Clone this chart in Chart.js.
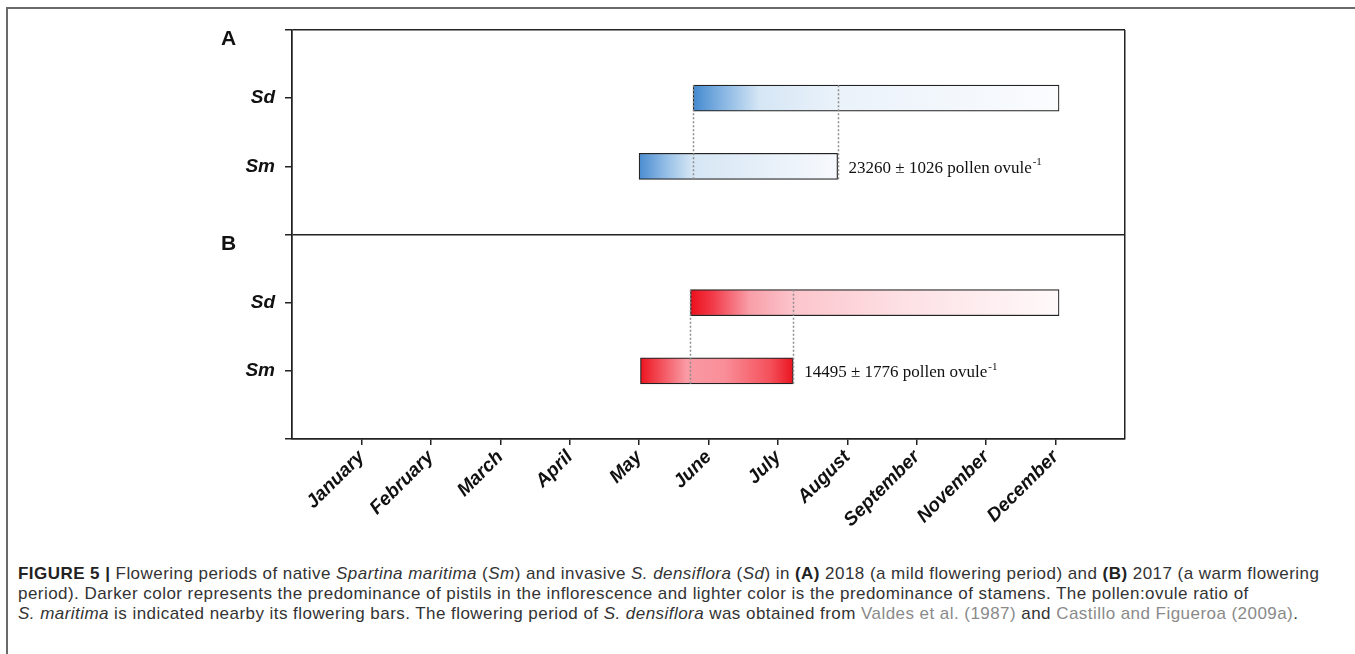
<!DOCTYPE html>
<html>
<head>
<meta charset="utf-8">
<script src="https://cdn.jsdelivr.net/npm/chart.js@4.4.1/dist/chart.umd.min.js"></script>
<style>
  html, body { margin: 0; padding: 0; background: #fff; }
  body { width: 1355px; height: 654px; position: relative; overflow: hidden; }
  #frame { position: absolute; left: 6px; top: 7px; width: 1360px; height: 660px; border-left: 2px solid #6a6a6a; border-top: 2px solid #6a6a6a; }
  #wrap { position: absolute; left: 0; top: 0; width: 1355px; height: 539px; }
  #caption { position: absolute; left: 18px; top: 564px; font: 17px/20px "Liberation Sans", Arial, sans-serif; letter-spacing: 0.45px; color: #333; white-space: nowrap; }
  #caption b { color: #222; }
  #caption .ref { color: #8a8a8a; }
</style>
</head>
<body>
<div id="frame"></div>
<div id="wrap"><canvas id="chart"></canvas></div>
<div id="caption">
<b>FIGURE 5 |</b> Flowering periods of native <i>Spartina maritima</i> (<i>Sm</i>) and invasive <i>S. densiflora</i> (<i>Sd</i>) in <b>(A)</b> 2018 (a mild flowering period) and <b>(B)</b> 2017 (a warm flowering<br>
period). Darker color represents the predominance of pistils in the inflorescence and lighter color is the predominance of stamens. The pollen:ovule ratio of<br>
<i>S. maritima</i> is indicated nearby its flowering bars. The flowering period of <i>S. densiflora</i> was obtained from <span class="ref">Valdes et al. (1987)</span> and <span class="ref">Castillo and Figueroa (2009a)</span>.
</div>
<script>
// month axis: 0 = January (October is missing in the original figure)
const months = ['January', 'February', 'March', 'April', 'May', 'June', 'July', 'August', 'September', 'November', 'December'];
// rows of the y axis, top to bottom (0-2 panel A, 3-6 panel B)
const rowLabels = ['', 'Sd', 'Sm', '', 'Sd', 'Sm', ''];
const dividerRows = [0, 3, 6];
const panels = ['A', 'B'];
const panelRows = [0, 3];

// flowering bars: A-Sd, A-Sm, B-Sd, B-Sm (month units)
const barRows = [1, 2, 4, 5];
const barStart = [4.78, 4.0, 4.74, 4.02];
const barEnd = [10.05, 6.86, 10.05, 6.22];

// dotted guides per panel
const guideA = [4.78, 6.86];
const guideB = [4.74, 6.22];

// pollen:ovule ratio of S. maritima, per panel
const ratioText = ['23260 ± 1026', '14495 ± 1776'];

// colour ramps along each bar (pistils dark -> stamens light)
const fills = [
  [[0, '#4489cf'], [0.07, '#7eb0e0'], [0.18, '#d5e6f5'], [0.39, '#eaf2fa'], [1, '#fbfcfe']],
  [[0, '#4a8cd1'], [0.15, '#9cc3e8'], [0.27, '#d6e6f4'], [1, '#f7f9fd']],
  [[0, '#ec0f1c'], [0.06, '#f23a48'], [0.16, '#f89ea8'], [0.28, '#fcc5cc'], [0.57, '#fde0e4'], [1, '#fff9fa']],
  [[0, '#ed1520'], [0.3, '#f99aa4'], [0.55, '#f98e98'], [0.85, '#f4505b'], [1, '#ea1420']]
];

const extras = {
  id: 'extras',
  afterDatasetsDraw(chart) {
    const { ctx, scales: { x, y } } = chart;
    const bars = chart.getDatasetMeta(0).data;
    ctx.save();

    ctx.strokeStyle = '#8e8e8e';
    ctx.lineWidth = 1.5;
    ctx.setLineDash([2, 2]);
    [guideA, guideB].forEach((guides, p) => {
      const sd = bars[p * 2], sm = bars[p * 2 + 1];
      const top = sd.y - sd.height / 2;
      const bottom = sm.y + sm.height / 2;
      guides.forEach((v) => {
        const px = Math.round(x.getPixelForValue(v)) + 0.5;
        ctx.beginPath();
        ctx.moveTo(px, top);
        ctx.lineTo(px, bottom);
        ctx.stroke();
      });
    });
    ctx.setLineDash([]);

    ctx.fillStyle = '#111';
    ratioText.forEach((t, p) => {
      const i = p * 2 + 1;
      let tx = x.getPixelForValue(barEnd[i]) + 11;
      const ty = bars[i].y + 2;
      const main = t + ' pollen ovule';
      ctx.font = '17px "Liberation Serif", "Times New Roman", serif';
      ctx.textBaseline = 'middle';
      ctx.textAlign = 'left';
      ctx.fillText(main, tx, ty);
      tx += ctx.measureText(main).width + 1;
      ctx.font = '11px "Liberation Serif", "Times New Roman", serif';
      ctx.fillText('-1', tx, ty - 6);
    });

    ctx.font = 'bold 21px "Liberation Sans", Arial, sans-serif';
    ctx.textBaseline = 'alphabetic';
    panels.forEach((name, p) => {
      ctx.fillText(name, chart.chartArea.left - 71, y.getPixelForValue(panelRows[p]) + 15);
    });
    ctx.restore();
  }
};

const black = '#222';
const clear = 'rgba(0,0,0,0)';

new Chart(document.getElementById('chart'), {
  type: 'bar',
  data: {
    datasets: [{
      data: barRows.map((r, i) => ({ y: r, x: [barStart[i], barEnd[i]] })),
      backgroundColor(c) {
        const chart = c.chart;
        const xs = chart.scales.x;
        const i = c.dataIndex;
        if (!chart.chartArea || !xs) return fills[i][0][1];
        const g = chart.ctx.createLinearGradient(xs.getPixelForValue(barStart[i]), 0, xs.getPixelForValue(barEnd[i]), 0);
        fills[i].forEach(([o, col]) => g.addColorStop(o, col));
        return g;
      },
      borderColor: black,
      borderWidth: 1.2,
      borderSkipped: false,
      barThickness: 26
    }]
  },
  options: {
    indexAxis: 'y',
    responsive: true,
    maintainAspectRatio: false,
    animation: false,
    layout: { padding: { left: 212, right: 230, top: 30, bottom: 0 } },
    plugins: { legend: { display: false }, tooltip: { enabled: false } },
    scales: {
      x: {
        type: 'linear',
        min: -1,
        max: 11,
        offset: false,
        afterFit(s) { s.height = 100; s.paddingLeft = 0; s.paddingRight = 0; },
        ticks: {
          stepSize: 1,
          autoSkip: false,
          minRotation: 45,
          maxRotation: 45,
          padding: 1,
          color: '#111',
          font: { family: 'Liberation Sans', size: 19, weight: 'bold', style: 'italic' },
          callback: (v) => months[v] ?? ''
        },
        grid: {
          offset: false,
          color: (c) => (c.tick && (c.tick.value === -1 || c.tick.value === 11)) ? black : clear,
          tickColor: (c) => (c.tick && c.tick.value >= 0 && c.tick.value <= 10) ? black : clear,
          lineWidth: 1.5,
          tickLength: 6
        },
        border: { color: black, width: 1.5 }
      },
      y: {
        type: 'linear',
        min: 0,
        max: 6,
        reverse: true,
        offset: false,
        afterFit(s) { s.width = 80; s.paddingTop = 0; s.paddingBottom = 0; },
        ticks: {
          stepSize: 1,
          padding: 10,
          color: '#111',
          font: { family: 'Liberation Sans', size: 19, weight: 'bold', style: 'italic' },
          callback: (v) => rowLabels[v] ?? ''
        },
        grid: {
          offset: false,
          color: (c) => (c.tick && dividerRows.includes(c.tick.value)) ? black : clear,
          tickColor: black,
          lineWidth: 1.5,
          tickLength: 7
        },
        border: { color: black, width: 1.5 }
      }
    }
  },
  plugins: [extras]
});
</script>
</body>
</html>
